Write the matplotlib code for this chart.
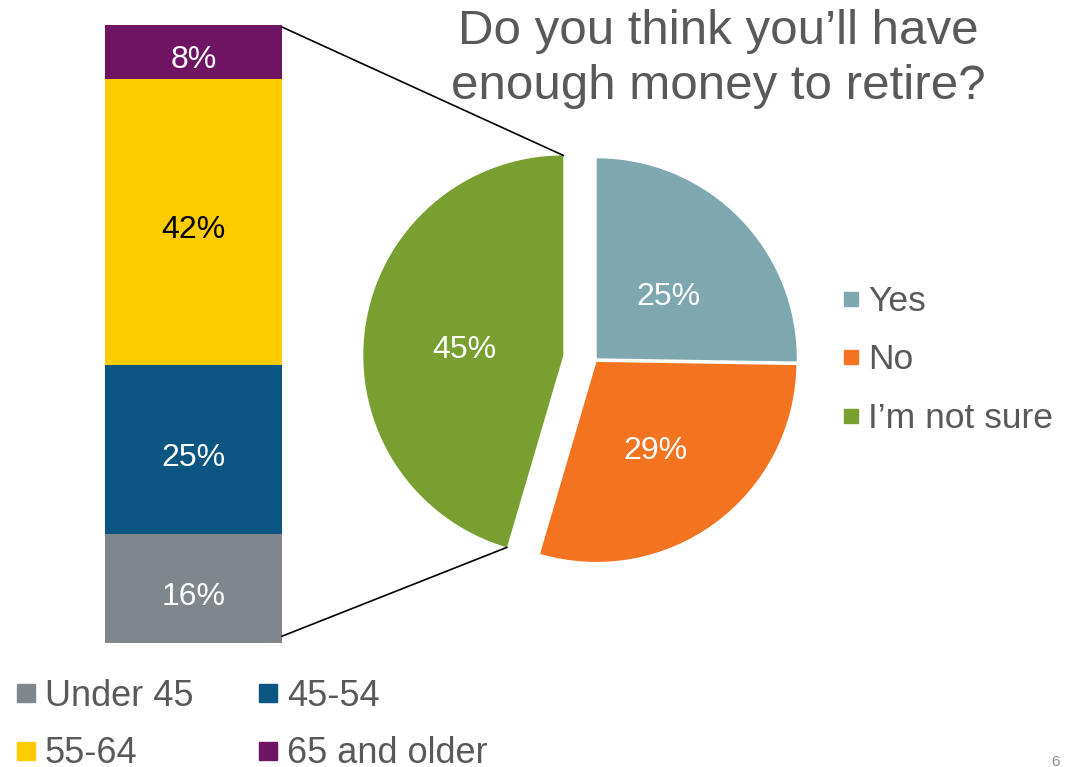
import matplotlib
matplotlib.use("Agg")
import matplotlib.pyplot as plt
import numpy as np
from matplotlib.patches import ConnectionPatch
from matplotlib.lines import Line2D
from matplotlib.transforms import ScaledTranslation

plt.rcParams["font.family"] = ["Liberation Sans", "DejaVu Sans"]

TEXT = "#595959"

# retirement answers
answers = ["Yes", "No", "I\u2019m not sure"]
answer_pct = [25, 29, 45]
answer_colors = ["#7FA7AF", "#F37321", "#7A9F31"]

# age breakdown of the "not sure" group (bottom to top)
ages = ["Under 45", "45-54", "55-64", "65 and older"]
age_pct = [16, 25, 42, 8]
age_colors = ["#7F868C", "#0A5582", "#FFCC00", "#6E1463"]
age_label_colors = ["white", "white", "black", "white"]

W, H = 1069, 767
fig = plt.figure(figsize=(W / 100, H / 100), dpi=100)
nudge = ScaledTranslation(0, -6 / 72, fig.dpi_scale_trans)


def px_axes(x0, y0, x1, y1):
    return fig.add_axes([x0 / W, 1 - y1 / H, (x1 - x0) / W, (y1 - y0) / H])


# stacked bar
ax_bar = px_axes(105, 25, 282, 643)
total = sum(age_pct)
bottom = 0
for name, v, c, tc in zip(ages, age_pct, age_colors, age_label_colors):
    ax_bar.bar(0, v, bottom=bottom, width=1.0, color=c, label=name)
    ax_bar.text(0, bottom + v / 2, f"{v}%", ha="center", va="center",
                fontsize=23, color=tc, transform=ax_bar.transData + nudge)
    bottom += v
ax_bar.set_xlim(-0.5, 0.5)
ax_bar.set_ylim(0, total)
ax_bar.axis("off")

# pie
ax_pie = px_axes(345, 110, 845, 610)
labels_iter = iter(answer_pct)
wedges, _, autotexts = ax_pie.pie(
    answer_pct, colors=answer_colors, startangle=90, counterclock=False,
    explode=[0.012, 0.012, 0.16], radius=1.0, pctdistance=0.5,
    autopct=lambda p: f"{next(labels_iter)}%",
    textprops=dict(color="white", fontsize=23),
    wedgeprops=dict(linewidth=0),
)
for t in autotexts:
    t.set_transform(ax_pie.transData + nudge)
ax_pie.set_xlim(-1.25, 1.25)
ax_pie.set_ylim(-1.25, 1.25)
ax_pie.set_aspect("equal")
ax_pie.axis("off")

# lines from the bar to the exploded wedge
g = wedges[2]
cx, cy = g.center
pts = []
for ang in (g.theta2, g.theta1):
    a = np.deg2rad(ang)
    pts.append((cx + g.r * np.cos(a), cy + g.r * np.sin(a)))
top_pt = max(pts, key=lambda p: p[1])
bot_pt = min(pts, key=lambda p: p[1])
for ya, pb in ((total - 0.3, top_pt), (1.0, bot_pt)):
    con = ConnectionPatch(xyA=(0.5, ya), coordsA=ax_bar.transData,
                          xyB=pb, coordsB=ax_pie.transData,
                          color="black", lw=1.2)
    fig.add_artist(con)

# title
fig.text(718 / W, 1 - 59 / H,
         "Do you think you\u2019ll have\nenough money to retire?",
         ha="center", va="center", fontsize=35.5, color=TEXT, linespacing=1.27)

# pie legend
pie_handles = [Line2D([], [], marker="s", ls="none", markersize=10,
                      markerfacecolor=c, markeredgecolor=c) for c in answer_colors]
fig.legend(pie_handles, answers, loc="center left",
           bbox_to_anchor=(843 / W, 1 - 360 / H), frameon=False,
           fontsize=25.5, labelcolor=TEXT, handlelength=0.45, handletextpad=0.25,
           labelspacing=0.72, borderpad=0, borderaxespad=0)

# age legend (ncol fills column-wise)
order = [0, 2, 1, 3]
age_handles = [Line2D([], [], marker="s", ls="none", markersize=13.5,
                      markerfacecolor=age_colors[i], markeredgecolor=age_colors[i])
               for i in order]
fig.legend(age_handles, [ages[i] for i in order], ncol=2, loc="upper left",
           bbox_to_anchor=(16 / W, 1 - 679 / H), frameon=False,
           fontsize=26, labelcolor=TEXT, handlelength=0.55, handletextpad=0.25,
           columnspacing=1.8, labelspacing=0.62, borderpad=0, borderaxespad=0)

# slide number
fig.text(1055 / W, 1 - 755 / H, "6", ha="center", va="top", fontsize=11,
         color="#8C8C8C")

fig.savefig("out.png", dpi=100)
